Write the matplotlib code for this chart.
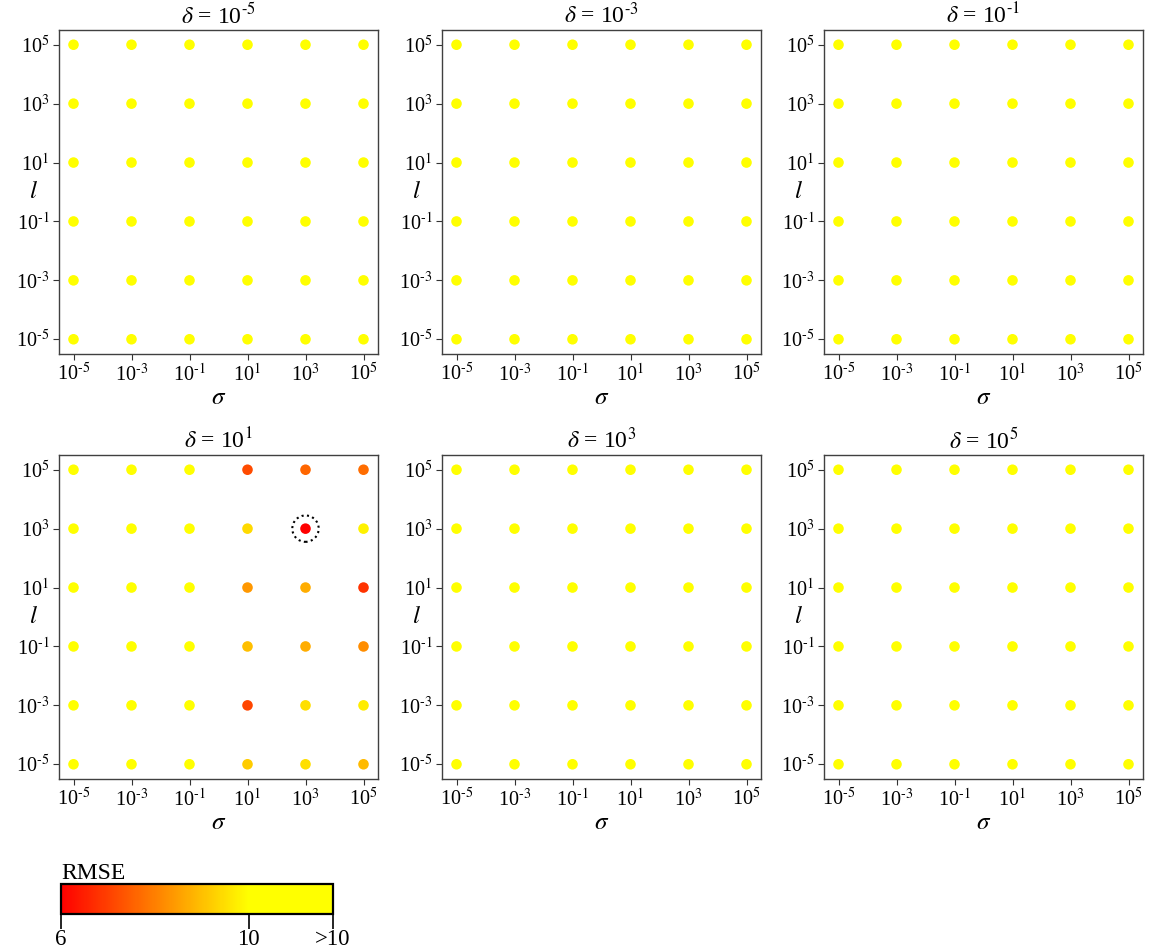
import numpy as np
import matplotlib
matplotlib.use("Agg")
import matplotlib.pyplot as plt
from matplotlib.colors import LinearSegmentedColormap, Normalize
from matplotlib.cm import ScalarMappable

plt.rcParams['font.family'] = ['Liberation Serif', 'DejaVu Serif']
plt.rcParams['mathtext.fontset'] = 'stix'

# grid of hyperparameters
sigma = [1e-5, 1e-3, 1e-1, 1e1, 1e3, 1e5]
ell = [1e5, 1e3, 1e1, 1e-1, 1e-3, 1e-5]
deltas = ['-5', '-3', '-1', '1', '3', '5']
tick_vals = [1e-5, 1e-3, 1e-1, 1e1, 1e3, 1e5]
tick_labels = [r'10$^{\text{-5}}$', r'10$^{\text{-3}}$', r'10$^{\text{-1}}$',
               r'10$^{1}$', r'10$^{3}$', r'10$^{5}$']

BIG = 20.0  # RMSE above 10
# rows follow ell (top to bottom), columns follow sigma
rmse_d1 = [
    [BIG, BIG, BIG, 7.2, 7.6, 7.7],
    [BIG, BIG, BIG, 9.4, 6.0, 9.8],
    [BIG, BIG, BIG, 8.4, 8.7, 6.8],
    [BIG, BIG, BIG, 9.0, 8.7, 8.2],
    [BIG, BIG, BIG, 7.1, 9.5, 9.7],
    [BIG, BIG, BIG, 9.2, 9.5, 8.9],
]
rmse_flat = [[BIG] * 6 for _ in range(6)]
rmse = {'-5': rmse_flat, '-3': rmse_flat, '-1': rmse_flat,
        '1': rmse_d1, '3': rmse_flat, '5': rmse_flat}
best = (1e3, 1e3)  # lowest RMSE, delta = 10^1

vmin, vtop, vmax = 6, 10, 11.8
cmap = LinearSegmentedColormap.from_list(
    'rmse', [(0, 'red'), ((vtop - vmin) / (vmax - vmin), 'yellow'), (1, 'yellow')])
cmap.set_over('yellow')
norm = Normalize(vmin, vmax)

W, H = 1151, 949
fig = plt.figure(figsize=(W / 100, H / 100), dpi=100)

lefts = [59, 442, 824]
tops = [30, 455]
aw, ah = 319, 324

S, L = np.meshgrid(sigma, ell)
for i, d in enumerate(deltas):
    r, c = divmod(i, 3)
    ax = fig.add_axes([lefts[c] / W, 1 - (tops[r] + ah) / H, aw / W, ah / H])
    ax.scatter(S.ravel(), L.ravel(), c=np.array(rmse[d]).ravel(),
               cmap=cmap, norm=norm, s=58, linewidths=0, zorder=3)
    if d == '1':
        ax.scatter([best[0]], [best[1]], s=19 ** 2, facecolors='none',
                   edgecolors='black', linewidths=1.5,
                   linestyles=[(0, (1, 1.6))], zorder=4)
    ax.set_xscale('log')
    ax.set_yscale('log')
    ax.set_xlim(10 ** -5.5, 10 ** 5.5)
    ax.set_ylim(10 ** -5.5, 10 ** 5.5)
    ax.set_xticks(tick_vals)
    ax.set_xticklabels(tick_labels)
    ax.set_yticks(tick_vals)
    ax.set_yticklabels(tick_labels)
    ax.minorticks_off()
    ax.tick_params(labelsize=14.5, length=4, width=0.8, color='#333333', pad=3)
    for sp in ax.spines.values():
        sp.set_color('#404040')
        sp.set_linewidth(1.0)
    ax.set_xlabel(r'$\sigma$', fontsize=18, labelpad=1)
    ax.set_ylabel(r'$l$', fontsize=18, rotation=0, va='center')
    ax.yaxis.set_label_coords(-26 / aw, 0.5)
    ax.set_title(r'$\delta$ = 10$^{\text{%s}}$' % d, fontsize=17, pad=5)

# colour bar
cax = fig.add_axes([61 / W, 1 - 914 / H, (333 - 61) / W, 30 / H])
cb = fig.colorbar(ScalarMappable(norm=norm, cmap=cmap), cax=cax,
                  orientation='horizontal', ticks=[6, 10, vmax])
cb.ax.set_xticklabels(['6', '10', '>10'])
cb.ax.tick_params(labelsize=16.5, length=11, width=1.2, color='black', pad=0)
cb.outline.set_linewidth(1.6)
cb.outline.set_edgecolor('black')
cax.set_title('RMSE', loc='left', fontsize=17, pad=3)

fig.savefig('out.png', dpi=100)
